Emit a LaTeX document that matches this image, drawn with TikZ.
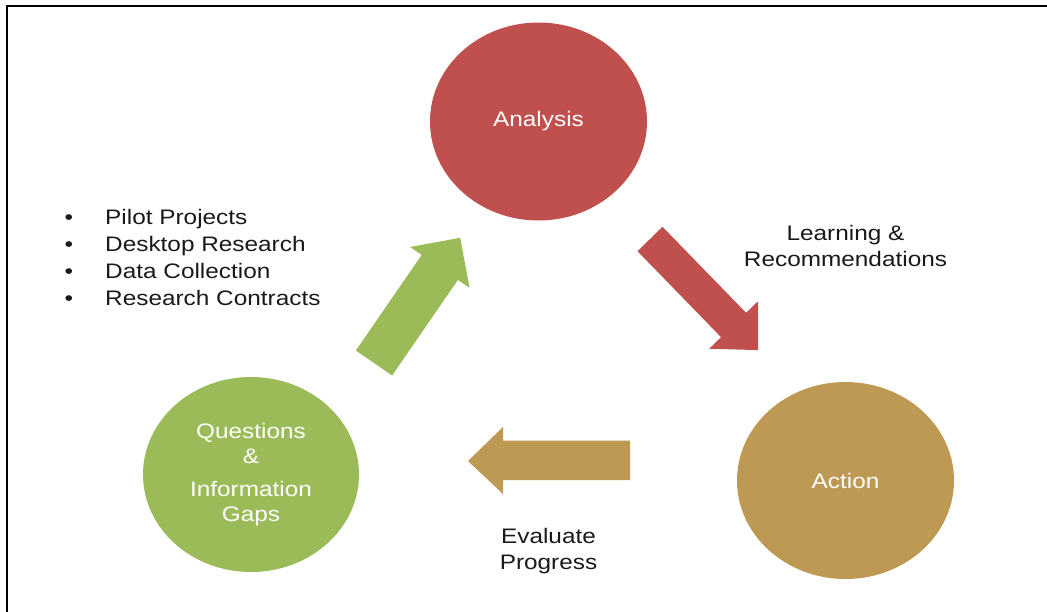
\documentclass[tikz,border=0pt]{standalone}
\usepackage{fontspec}
\setmainfont{Liberation Sans}[FakeStretch=1.16]
\usetikzlibrary{shapes.geometric}
\definecolor{cred}{HTML}{C0504D}
\definecolor{cgreen}{HTML}{9BBB59}
\definecolor{cgold}{RGB}{190,153,83}
\definecolor{ctext}{HTML}{1A1A1A}
\begin{document}
\begin{tikzpicture}[x=1pt,y=-1pt,
  blob/.style={ellipse, inner sep=0pt, text=white, font=\fontsize{21}{25}\selectfont, align=center},
  lbl/.style={text=ctext, font=\fontsize{21}{26}\selectfont, align=center, inner sep=0pt},
  listlbl/.style={text=ctext, font=\fontsize{21}{27}\selectfont, align=left, inner sep=0pt},
  frameline/.style={line width=2.3pt, black}]
\useasboundingbox (0,0) rectangle (1047,611);
\fill[white] (0,0) rectangle (1047,611);
\draw[frameline] (7.2,640) -- (7.2,6) -- (1080,6);

% circles
\node[blob, fill=cred, minimum width=217, minimum height=198] (analysis) at (538.5,121.5) {Analysis};
\node[blob, fill=cgold, minimum width=217, minimum height=197] (action) at (845.5,480.5) {Action};
\node[blob, fill=cgreen, minimum width=216, minimum height=195] (questions) at (251,474.5) {Questions\\ \&\\[8pt] Information\\ Gaps};

% block arrows
\fill[cgreen] (355.9,350.5) -- (421.7,254.9) -- (410.1,247) -- (460.2,237.8) -- (469.5,287.8) -- (457.9,279.9) -- (392.1,375.5) -- cycle;
\fill[cred] (662.5,226.8) -- (746.1,312.8) -- (758,301.3) -- (758,350.1) -- (709.2,348.7) -- (721.1,337.2) -- (637.5,251.2) -- cycle;
\fill[cgold] (630,440.5) -- (503,440.5) -- (503,427) -- (468,461) -- (503,494) -- (503,480) -- (630,480) -- cycle;

% labels
\node[lbl] (learn) at (845.5,245.5) {Learning \&\\Recommendations};
\node[lbl] (eval) at (548.5,551.2) {Evaluate\\Progress};
\node[listlbl, anchor=west] (bullets) at (64.5,259.8) {\begin{tabular}{@{}l@{\hspace{32pt}}l@{}}•&Pilot Projects\\•&Desktop Research\\•&Data Collection\\•&Research Contracts\end{tabular}};
\end{tikzpicture}
\end{document}
